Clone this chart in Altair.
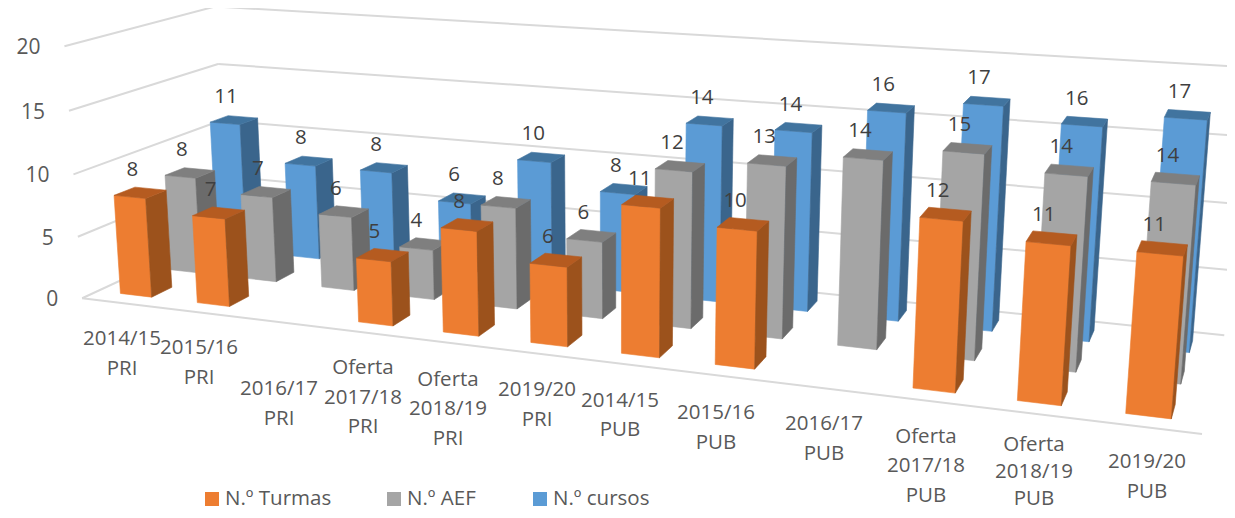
import numpy as np
import pandas as pd
import altair as alt

categories = ["2014/15\nPRI", "2015/16\nPRI", "2016/17\nPRI", "Oferta\n2017/18\nPRI", "Oferta\n2018/19\nPRI", "2019/20\nPRI",
              "2014/15\nPUB", "2015/16\nPUB", "2016/17\nPUB", "Oferta\n2017/18\nPUB", "Oferta\n2018/19\nPUB", "2019/20\nPUB"]
turmas = [8, 7, None, 5, 8, 6, 11, 10, None, 12, 11, 11]
aef = [8, 7, 6, 4, 8, 6, 12, 13, 14, 15, 14, 14]
cursos = [11, 8, 8, 6, 10, 8, 14, 14, 16, 17, 16, 17]
series_names = ["N.º Turmas", "N.º AEF", "N.º cursos"]
y_ticks = [0, 5, 10, 15, 20]

# layout: camera calibration (category, depth, value) -> picture position
calib = [
    (-.5,-.5,0,83,298),(11.5,-.5,0,1202,434),(-.5,2.5,0,220,230),(11.5,2.5,0,1224,335),
    (-.5,-.5,20,62,45),(-.5,-.5,15,68,110),(-.5,-.5,10,72,174),(-.5,-.5,5,78,237),
    (-.5,2.5,20,217,7),(-.5,2.5,15,218,64),(11.5,2.5,5,1230,270),(11.5,2.5,10,1236,203),
    (0,0,8,140.5,193.5),(0,0,0,147,290.5),(11,0,11,1162,248),(11,0,0,1151,410),
    (11,2,17,1187,114.5),(8,2,16,891,108),(0,2,11,236.5,121),(8,1,14,867,154.5),(8,1,0,862,340.5),
    (0,1,8,192,174),(1,1,7,267.5,192.5),(1,1,0,272,274),(1,0,7,219,213.5),(1,0,0,224,299),
    (6,0,11,646.5,202),(6,0,0,647,349.5),(6,2,14,710,121),(6,1,12,680,166),(6,1,0,678,323),
]
A, b = [], []
for u, v, z, x, y in calib:
    A.append([u, v, z, 1, 0, 0, 0, 0, -x*u, -x*v, -x*z]); b.append(x)
    A.append([0, 0, 0, 0, u, v, z, 1, -y*u, -y*v, -y*z]); b.append(y)
p = np.linalg.lstsq(np.array(A, float), np.array(b, float), rcond=None)[0]
P = np.array([p[0:4], p[4:8], [p[8], p[9], p[10], 1.0]])

def proj(u, v, z):
    h = P @ np.array([u, v, z, 1.0])
    return float(h[0]/h[2]), float(h[1]/h[2])

W, D = 0.205, 0.2   # half width / half depth of a column
shades = [("#ED7D31", "#9C521C", "#B55B20"),
          ("#A5A5A5", "#6B6B6B", "#7F7F7F"),
          ("#5B9BD5", "#3A658C", "#41749F")]
rows = [turmas, aef, cursos]

faces = []
fid = 0
def add_face(corners, color):
    global fid
    fid += 1
    for k, (u, v, z) in enumerate(corners + corners[:1]):
        x, y = proj(u, v, z)
        faces.append({"face": f"f{fid:04d}", "k": k, "px": x, "py": y, "color": color})

labels = []
for s in (2, 1, 0):
    for i, val in enumerate(rows[s]):
        if val is None:
            continue
        u0, u1, v0, v1 = i-W, i+W, s-D, s+D
        front, side, top = shades[s]
        add_face([(u0, v0, 0), (u1, v0, 0), (u1, v0, val), (u0, v0, val)], front)
        add_face([(u1, v0, 0), (u1, v1, 0), (u1, v1, val), (u1, v0, val)], side)
        add_face([(u0, v0, val), (u1, v0, val), (u1, v1, val), (u0, v1, val)], top)
        x, y = proj(i, s, val)
        labels.append({"px": x-8, "py": y-23, "t": str(val)})

grid = []
g = 0
for z in y_ticks:
    for a, c in [((-.5, -.5, z), (-.5, 2.5, z)), ((-.5, 2.5, z), (11.5, 2.5, z))]:
        g += 1
        for k, pt in enumerate((a, c)):
            x, y = proj(*pt)
            grid.append({"g": g, "k": k, "px": x, "py": y})
g += 1
for k, pt in enumerate(((-.5, -.5, 0), (11.5, -.5, 0))):
    x, y = proj(*pt)
    grid.append({"g": g, "k": k, "px": x, "py": y})

ticks = []
for z in y_ticks:
    x, y = proj(-.5, -.5, z)
    ticks.append({"px": x-24, "py": y+2, "t": str(z)})

# layout: centre of each category label block and its line spacing
label_x = [122, 199, 279, 363, 448, 537, 620, 716, 824, 926, 1034, 1147]
label_y = [354, 363, 404, 397.5, 409, 405, 415.5, 428, 439, 466, 471.5, 477]
label_gap = [29.5]*10 + [27, 29.5]
cat_rows = []
for cx, cy, t, gap in zip(label_x, label_y, categories, label_gap):
    parts = t.split("\n")
    for j, part in enumerate(parts):
        cat_rows.append({"px": cx, "py": cy + (j-(len(parts)-1)/2)*gap, "t": part})

legend_sq = pd.DataFrame({"px": [212, 394, 540], "py": [499]*3, "color": [s[0] for s in shades]})
legend_tx = pd.DataFrame({"px": [225, 407, 553], "py": [498.5]*3, "t": series_names})

X = alt.X("px:Q", axis=None, scale=alt.Scale(domain=[8, 1227], nice=False, zero=False))
Y = alt.Y("py:Q", axis=None, scale=alt.Scale(domain=[510, 8], nice=False, zero=False))

grid_l = alt.Chart(pd.DataFrame(grid)).mark_line(color="#D9D9D9", strokeWidth=2).encode(x=X, y=Y, detail="g:N", order="k:Q")
bars_l = alt.Chart(pd.DataFrame(faces)).mark_line(strokeWidth=0.6, strokeJoin="round").encode(
    x=X, y=Y, detail="face:N", order="k:Q",
    fill=alt.Fill("color:N", scale=None), stroke=alt.Stroke("color:N", scale=None))

FONT = "Open Sans"
def text_layer(rows_, size, align="center", color="#595959"):
    return alt.Chart(pd.DataFrame(rows_)).mark_text(font=FONT, fontSize=size, align=align, baseline="middle", color=color).encode(x=X, y=Y, text="t:N")

val_l = text_layer(labels, 20.5, color="#3F3F3F")
tick_l = text_layer(ticks, 21, align="right")
cat_l = text_layer(cat_rows, 20.5)
leg_t = text_layer(legend_tx.to_dict("records"), 20.5, align="left")
leg_s = alt.Chart(legend_sq).mark_square(size=196, opacity=1).encode(x=X, y=Y, fill=alt.Fill("color:N", scale=None))

chart = alt.layer(grid_l, bars_l, val_l, tick_l, cat_l, leg_s, leg_t).properties(
    width=1219, height=502,
    padding=0,
    autosize=alt.AutoSizeParams(type="none"),
    background="white",
).configure_view(stroke=None)

chart.save("out.html", embed_options={"renderer": "svg", "actions": False})
